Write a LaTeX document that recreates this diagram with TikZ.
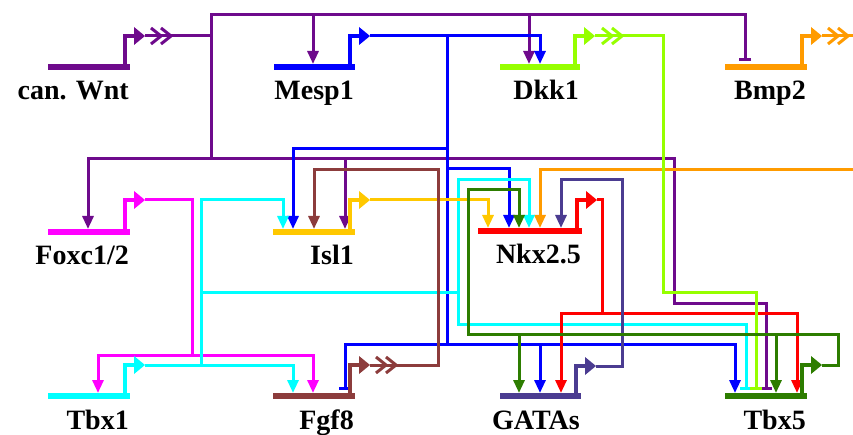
\documentclass[tikz,border=0pt]{standalone}
\usepackage{fontspec}
\setmainfont{Liberation Serif}
\usetikzlibrary{arrows.meta}
\definecolor{cwnt}{RGB}{110,10,140}
\definecolor{cmesp}{RGB}{0,0,255}
\definecolor{cdkk}{RGB}{150,255,0}
\definecolor{cbmp}{RGB}{255,155,0}
\definecolor{cfox}{RGB}{255,0,255}
\definecolor{cisl}{RGB}{255,200,0}
\definecolor{cnkx}{RGB}{255,0,0}
\definecolor{ctbxone}{RGB}{0,255,255}
\definecolor{cfgf}{RGB}{140,60,60}
\definecolor{cgata}{RGB}{75,60,145}
\definecolor{ctbxfive}{RGB}{45,125,0}
% gene: name, colour, x1, x2, y (bar), y (promoter top), label
\newcommand\mygene[7]{%
  \draw[genebar,#2] (#3,#5) -- (#4,#5);
  \draw[prom,#2] ({#4-5},{#5+1}) -- ({#4-5},#6) -- ({#4+5},#6);
  \fill[#2] ({#4+4},{#6-9}) -- ({#4+15},#6) -- ({#4+4},{#6+9}) -- cycle;
  \coordinate (#1-out) at ({#4+15},#6);
  \node[lbl] (#1) at ({#4-1},{#5+33}) {#7};
}
\newcommand\mychev[3]{%
  \draw[link,#3,line join=miter] (#1,{#2-8}) -- ({#1+10},#2) -- (#1,{#2+8});
  \draw[link,#3,line join=miter] ({#1+10},{#2-8}) -- ({#1+20},#2) -- ({#1+10},{#2+8});
}
\begin{document}
\begin{tikzpicture}[x=1pt,y=-1pt,
  link/.style={line width=3pt},
  act/.style={link,-{Triangle[length=13pt,width=11pt]}},
  rep/.style={link,-{Bar[width=12pt,line width=3pt]}},
  genebar/.style={line width=5.5pt},
  prom/.style={line width=4.5pt},
  lbl/.style={font=\fontsize{28}{30}\selectfont\bfseries, anchor=base east, inner sep=0pt}]
\useasboundingbox (0,0) rectangle (853,435);

% ---- coordinates of junctions
\coordinate (wbus) at (211,159);
\coordinate (mbus) at (447,36);

% ---- purple (can. Wnt)
\draw[rep,cwnt] (wbus) -- (211,15) -- (745,15) -- (745,61);
\draw[act,cwnt] (313,15) -- (313,64);
\draw[act,cwnt] (529,15) -- (529,64);
\draw[act,cwnt] (wbus) -- (88,159) -- (88,229);
\draw[rep,cwnt] (wbus) -- (674,159) -- (674,303) -- (766,303) -- (766,390);
\draw[act,cwnt] (345,159) -- (345,229);

% ---- blue (Mesp1)
\draw[link,cmesp] (mbus) -- (447,344);
\draw[act,cmesp] (447,149) -- (293,149) -- (293,229);
\draw[act,cmesp] (447,169) -- (509,169) -- (509,228);
\draw[rep,cmesp] (447,344) -- (345,344) -- (345,390);
\draw[act,cmesp] (447,344) -- (735,344) -- (735,393);
\draw[act,cmesp] (540,344) -- (540,393);

% ---- orange (Bmp2) into Nkx2.5
\draw[act,cbmp] (853,170) -- (540,170) -- (540,228);

% ---- magenta (Foxc1/2)
\coordinate (fbus) at (192,355);
\draw[act,cfox] (fbus) -- (98,355) -- (98,393);
\draw[act,cfox] (fbus) -- (313,355) -- (313,393);

% ---- cyan (Tbx1)
\draw[act,ctbxone] (201,365) -- (201,200) -- (283,200) -- (283,229);
\draw[link,ctbxone] (201,293) -- (458,293);
\draw[act,ctbxone] (458,293) -- (458,180) -- (529,180) -- (529,228);
\draw[rep,ctbxone] (458,293) -- (458,324) -- (746,324) -- (746,390);

% ---- green (Tbx5)
\draw[act,ctbxfive] (519,334) -- (519,393);
\draw[act,ctbxfive] (776,334) -- (776,393);

% ---- red (Nkx2.5)
\draw[act,cnkx] (602,313) -- (561,313) -- (561,393);
\draw[act,cnkx] (602,313) -- (797,313) -- (797,393);

% ---- genes
\mygene{wnt}{cwnt}{48}{130}{67}{36}{can. Wnt}
\mygene{mesp}{cmesp}{274}{355}{67}{36}{Mesp1}
\mygene{dkk}{cdkk}{500}{580}{67}{36}{Dkk1}
\mygene{bmp}{cbmp}{725}{807}{67}{36}{Bmp2}
\mygene{fox}{cfox}{48}{130}{232}{200}{Foxc1/2}
\mygene{isl}{cisl}{273}{355}{232}{200}{Isl1}
\mygene{nkx}{cnkx}{478}{582}{231}{200}{Nkx2.5}
\mygene{tbxone}{ctbxone}{48}{130}{396}{365}{Tbx1}
\mygene{fgf}{cfgf}{273}{355}{396}{365}{Fgf8}
\mygene{gata}{cgata}{500}{581}{396}{366}{GATAs}
\mygene{tbxfive}{ctbxfive}{725}{807}{396}{365}{Tbx5}

% ---- outputs
\draw[link,cwnt] (wnt-out) -- (wbus |- wnt-out);
\mychev{151}{36}{cwnt}
\draw[act,cmesp] (mesp-out) -- (540,36) -- (540,64);
\draw[rep,cdkk] (dkk-out) -- (663,36) -- (663,293) -- (756,293) -- (756,390);
\mychev{602}{36}{cdkk}
\draw[link,cbmp] (bmp-out) -- (853,36);
\mychev{828}{36}{cbmp}
\draw[link,cfox] (fox-out) -- (192,200) -- (fbus);
\draw[act,ctbxone] (tbxone-out) -- (293,365) -- (293,393);
\draw[act,cisl] (isl-out) -- (488,200) -- (488,228);
\draw[link,cnkx] (nkx-out) -- (602,200) -- (602,313);
\draw[act,cgata] (gata-out) -- (622,366) -- (622,180) -- (561,180) -- (561,228);
\draw[act,cfgf] (fgf-out) -- (438,365) -- (438,170) -- (314,170) -- (314,229);
\mychev{376}{365}{cfgf}
\draw[act,ctbxfive] (tbxfive-out) -- (838,365) -- (838,334) -- (468,334) -- (468,190) -- (519,190) -- (519,228);
\end{tikzpicture}
\end{document}
